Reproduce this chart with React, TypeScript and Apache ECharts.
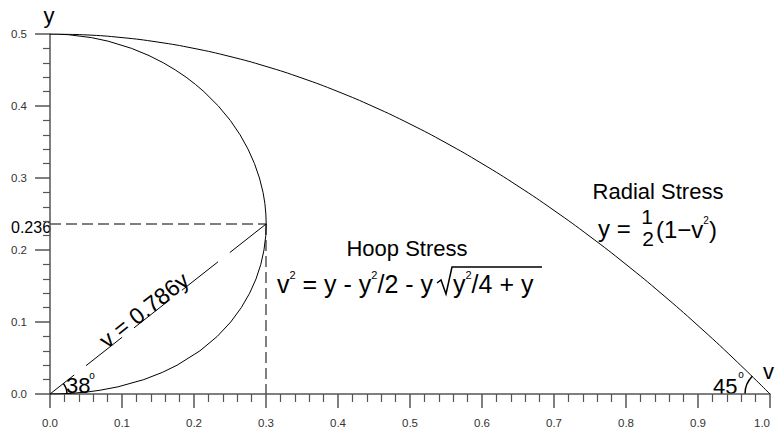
import React, { useEffect, useRef } from "react";
import * as echarts from "echarts";

const FONT = "'Liberation Sans', Arial, sans-serif";

// Radial stress curve y = 1/2 (1 - v^2)
const radialV = [0, 0.05, 0.1, 0.15, 0.2, 0.25, 0.3, 0.35, 0.4, 0.45, 0.5, 0.55, 0.6, 0.65, 0.7, 0.75, 0.8, 0.85, 0.9, 0.95, 1.0];
const radialY = [0.5, 0.49875, 0.495, 0.48875, 0.48, 0.46875, 0.455, 0.43875, 0.42, 0.39875, 0.375, 0.34875, 0.32, 0.28875, 0.255, 0.21875, 0.18, 0.13875, 0.095, 0.04875, 0];

// Hoop stress curve (y ascending)
const hoopY = [0, 0.0002, 0.001, 0.003, 0.005, 0.01, 0.02, 0.03, 0.04, 0.06, 0.08, 0.1, 0.12, 0.14, 0.16, 0.18, 0.2, 0.22, 0.236, 0.25, 0.265, 0.28, 0.3, 0.32, 0.34, 0.36, 0.38, 0.4, 0.42, 0.43, 0.44, 0.45, 0.46, 0.47, 0.48, 0.49, 0.495, 0.499, 0.4998, 0.5];
const hoopV = [0, 0.0141, 0.0311, 0.0532, 0.0681, 0.0946, 0.1303, 0.156, 0.1765, 0.2083, 0.2323, 0.251, 0.2657, 0.2773, 0.2862, 0.2928, 0.2972, 0.2997, 0.3003, 0.2998, 0.2984, 0.2959, 0.2909, 0.284, 0.2751, 0.264, 0.2504, 0.2338, 0.2137, 0.202, 0.189, 0.1742, 0.1574, 0.1376, 0.1134, 0.0809, 0.0575, 0.0258, 0.0116, 0];

// Chord v = 0.786y (drawn from the top end down to the origin)
const chordV = [0.3, 0];
const chordY = [0.236, 0];

// Reference point
const refV = 0.3;
const refY = 0.236;

const xTickLabels = ["0.0", "0.1", "0.2", "0.3", "0.4", "0.5", "0.6", "0.7", "0.8", "0.9", "1.0"];
const yTickLabels = ["0.0", "0.1", "0.2", "0.3", "0.4", "0.5"];

export default function App() {
  const ref = useRef<HTMLDivElement>(null);
  useEffect(() => {
    document.body.style.margin = "0";
    const chart = echarts.init(ref.current!, null, { renderer: "svg" });
    const axisColor = "#555";
    const option: any = {
      animation: false,
      backgroundColor: "#fff",
      grid: { left: 50, right: 5, top: 34, bottom: 40, containLabel: false, outerBoundsMode: "none" },
      xAxis: {
        type: "value",
        min: 0,
        max: 1,
        interval: 0.1,
        axisLine: { show: true, onZero: false, lineStyle: { color: axisColor, width: 1.5 } },
        axisTick: { show: true, length: 14, lineStyle: { color: axisColor, width: 1.5 } },
        minorTick: { show: true, splitNumber: 5, length: 8, lineStyle: { color: axisColor, width: 1.2 } },
        splitLine: { show: false },
        axisLabel: {
          margin: 23,
          fontSize: 11.5,
          fontFamily: FONT,
          color: "#333",
          showMaxLabel: true,
          alignMaxLabel: "right",
          formatter: (v: number) => xTickLabels[Math.round(v * 10)],
        },
      },
      yAxis: {
        type: "value",
        min: 0,
        max: 0.5,
        interval: 0.1,
        axisLine: { show: true, onZero: false, lineStyle: { color: axisColor, width: 1.5 } },
        axisTick: { show: true, length: 15, lineStyle: { color: axisColor, width: 1.5 } },
        minorTick: { show: true, splitNumber: 5, length: 7, lineStyle: { color: axisColor, width: 1.2 } },
        splitLine: { show: false },
        axisLabel: {
          margin: 23,
          fontSize: 11.5,
          fontFamily: FONT,
          color: "#333",
          formatter: (v: number) => yTickLabels[Math.round(v * 10)],
        },
      },
      series: [
        {
          type: "line",
          name: "ref-h",
          data: [[0, refY], [refV, refY]],
          showSymbol: false,
          lineStyle: { color: "#555", width: 1.5, type: [11, 5] },
          z: 1,
        },
        {
          type: "line",
          name: "ref-v",
          data: [[refV, refY], [refV, 0]],
          showSymbol: false,
          lineStyle: { color: "#555", width: 1.5, type: [11, 5] },
          z: 1,
        },
        {
          type: "line",
          name: "Radial Stress",
          data: radialV.map((v, i) => [v, radialY[i]]),
          showSymbol: false,
          smooth: true,
          lineStyle: { color: "#000", width: 1 },
          z: 3,
        },
        {
          type: "line",
          name: "Hoop Stress",
          data: hoopV.map((v, i) => [v, hoopY[i]]),
          showSymbol: false,
          lineStyle: { color: "#000", width: 1 },
          z: 3,
        },
        {
          type: "line",
          name: "chord",
          data: chordV.map((v, i) => [v, chordY[i]]),
          showSymbol: false,
          lineStyle: { color: "#000", width: 1, type: [46, 15] },
          z: 3,
        },
      ],
    };
    chart.setOption(option);

    const o = chart.convertToPixel({ gridIndex: 0 }, [0, 0]) as number[];
    const e = chart.convertToPixel({ gridIndex: 0 }, [1, 0]) as number[];
    const t = (text: string, x: number, y: number, size: number, align = "left", extra: any = {}) => ({
      type: "text",
      x,
      y,
      ...extra,
      style: { text, fill: "#000", font: `${size}px ${FONT}`, textAlign: align, textVerticalAlign: "middle" },
    });
    const angle38 = Math.atan2(refY * 720, refV * 720);
    const richMain = (size: number, lh: number) => ({ fontSize: size, fontFamily: FONT, fill: "#000", lineHeight: lh });
    const richSup = (size: number) => ({ fontSize: size, fontFamily: FONT, fill: "#000", lineHeight: 12, verticalAlign: "top" });

    chart.setOption({
      graphic: [
        t("y", 49, 15, 22, "center"),
        t("v", 763, 371, 22, "left"),
        t("0.236", 11, 227, 16, "left"),
        t("38", 66, 385, 22, "left"),
        t("o", 92, 375, 10, "center"),
        t("45", 713, 386, 22, "left"),
        t("o", 741, 374, 10, "center"),
        t("Radial Stress", 658, 191, 22, "center"),
        t("y =", 598, 228, 24, "left"),
        t("1", 647, 216, 21, "center"),
        t("2", 648, 238, 21, "center"),
        {
          type: "text",
          x: 656,
          y: 229,
          style: {
            text: "{m|(1−v}{s|2}{m|)}",
            textAlign: "left",
            textVerticalAlign: "middle",
            rich: { m: richMain(24, 28), s: richSup(10) },
          },
        },
        t("Hoop Stress", 407, 248, 22, "center"),
        {
          type: "text",
          x: 277,
          y: 284,
          style: {
            text: "{m|v}{s|2}{m| = y - y}{s|2}{m|/2 - y}",
            textAlign: "left",
            textVerticalAlign: "middle",
            rich: { m: richMain(25, 30), s: richSup(11) },
          },
        },
        {
          type: "text",
          x: 453,
          y: 284,
          style: {
            text: "{m|y}{s|2}{m|/4 + y}",
            textAlign: "left",
            textVerticalAlign: "middle",
            rich: { m: richMain(25, 30), s: richSup(11) },
          },
        },
        {
          type: "polyline",
          shape: { points: [[437, 283], [441, 280], [446, 294], [452, 267], [542, 267]] },
          style: { stroke: "#000", lineWidth: 1.5, fill: null },
        },
        {
          type: "text",
          x: 144,
          y: 310,
          rotation: angle38,
          style: { text: "v = 0.786y", fill: "#000", font: `23px ${FONT}`, textAlign: "center", textVerticalAlign: "middle" },
        },
        {
          type: "arc",
          shape: { cx: o[0], cy: o[1], r: 17, startAngle: -angle38, endAngle: 0, clockwise: true },
          style: { stroke: "#000", lineWidth: 1.5, fill: null },
        },
        {
          type: "arc",
          shape: { cx: e[0], cy: e[1], r: 25, startAngle: Math.PI, endAngle: Math.PI * 1.25, clockwise: true },
          style: { stroke: "#000", lineWidth: 1.5, fill: null },
        },
      ],
    });
    return () => chart.dispose();
  }, []);
  return <div ref={ref} style={{ width: 775, height: 434 }} />;
}
